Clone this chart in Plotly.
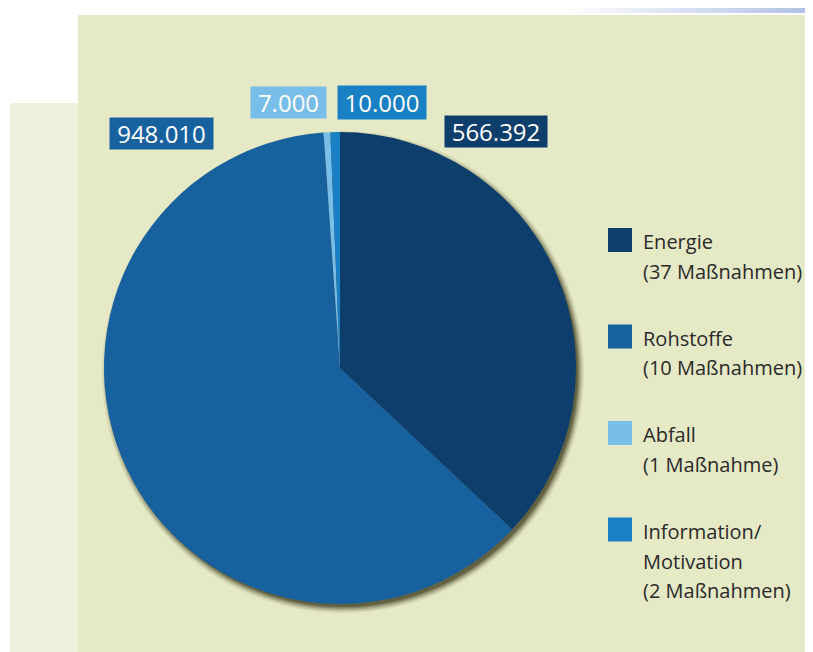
import plotly.graph_objects as go

# ---- data ----
categories = ["Energie", "Rohstoffe", "Abfall", "Information/Motivation"]
values = [566392, 948010, 7000, 10000]
value_labels = ["566.392", "948.010", "7.000", "10.000"]
legend_lines = [
    ["Energie", "(37 Maßnahmen)"],
    ["Rohstoffe", "(10 Maßnahmen)"],
    ["Abfall", "(1 Maßnahme)"],
    ["Information/", "Motivation", "(2 Maßnahmen)"],
]
colors = ["#0e3e6c", "#17619f", "#79bde9", "#1a80c4"]

# ---- layout helpers (screen px -> paper); page body has an 8px margin ----
OFF = 8
W, H = 805, 644
def px(x):
    return (x - OFF) / W
def py(y):
    return 1 - (y - OFF) / H

cx, cy, r = 340, 368, 236
label_pos = [(496, 131), (161, 133), (288, 102), (382, 103)]  # box centres in px
label_box = [(102, 31), (103, 31), (75, 31), (88, 33)]

fig = go.Figure()
fig.add_trace(go.Pie(
    labels=categories, values=values, sort=False, direction="clockwise",
    rotation=0, textinfo="none", hoverinfo="label+value",
    marker=dict(colors=colors, line=dict(width=0)),
    domain=dict(x=[px(cx - r), px(cx + r)], y=[py(cy + r), py(cy - r)]),
    showlegend=False,
))

shapes = []
# background panels
shapes.append(dict(type="rect", xref="paper", yref="paper", x0=px(10), x1=px(78),
                   y0=py(653), y1=py(103), fillcolor="#edf0da", line=dict(width=0), layer="below"))
shapes.append(dict(type="rect", xref="paper", yref="paper", x0=px(78), x1=px(814),
                   y0=py(653), y1=py(15), fillcolor="#e5e9c5", line=dict(width=0), layer="below"))
# top-right gradient strip
n = 40
x_start, x_end = 565, 814
for i in range(n):
    t = (i + 0.5) / n
    rr = int(255 + (176 - 255) * t)
    gg = int(255 + (191 - 255) * t)
    bb = int(255 + (227 - 255) * t)
    shapes.append(dict(type="rect", xref="paper", yref="paper",
                       x0=px(x_start + (x_end - x_start) * i / n),
                       x1=px(x_start + (x_end - x_start) * (i + 1) / n + 0.5),
                       y0=py(13), y1=py(0), fillcolor=f"rgb({rr},{gg},{bb})",
                       line=dict(width=0), layer="below"))
# soft drop shadow (down-right) behind the pie
sdx, sdy = 3, 4
for d, op in [(5, 0.08), (3.5, 0.13), (2, 0.2), (0.5, 0.3), (-1, 0.45)]:
    shapes.append(dict(type="circle", xref="paper", yref="paper",
                       x0=px(cx + sdx - r - d), x1=px(cx + sdx + r + d),
                       y0=py(cy + sdy + r + d), y1=py(cy + sdy - r - d),
                       fillcolor=f"rgba(55,55,25,{op})", line=dict(width=0), layer="below"))

annotations = []
# value labels
for lab, col, (lx, ly), (bw, bh) in zip(value_labels, colors, label_pos, label_box):
    annotations.append(dict(
        text=lab, x=px(lx), y=py(ly), xref="paper", yref="paper",
        xanchor="center", yanchor="middle", showarrow=False,
        font=dict(family="Open Sans", size=24, color="white"),
        bgcolor=col, width=bw, height=bh, borderpad=0,
    ))

# legend
leg_x_sq, leg_sq = 608, 24
leg_text_x = 641
leg_y0, leg_step, line_step = 240, 96.5, 29.5
for i, (lines, col) in enumerate(zip(legend_lines, colors)):
    yc = leg_y0 + i * leg_step
    shapes.append(dict(type="rect", xref="paper", yref="paper",
                       x0=px(leg_x_sq), x1=px(leg_x_sq + leg_sq),
                       y0=py(yc + leg_sq / 2), y1=py(yc - leg_sq / 2),
                       fillcolor=col, line=dict(width=0)))
    for k, ln in enumerate(lines):
        annotations.append(dict(
            text=ln, x=px(leg_text_x), y=py(yc + 2 + k * line_step),
            xref="paper", yref="paper", xanchor="left", yanchor="middle",
            showarrow=False, font=dict(family="Open Sans", size=20, color="#2a2a2a"),
        ))

fig.update_layout(
    width=W, height=H, margin=dict(l=0, r=0, t=0, b=0),
    paper_bgcolor="white", plot_bgcolor="white",
    shapes=shapes, annotations=annotations, showlegend=False,
)
fig.write_html("out.html")
